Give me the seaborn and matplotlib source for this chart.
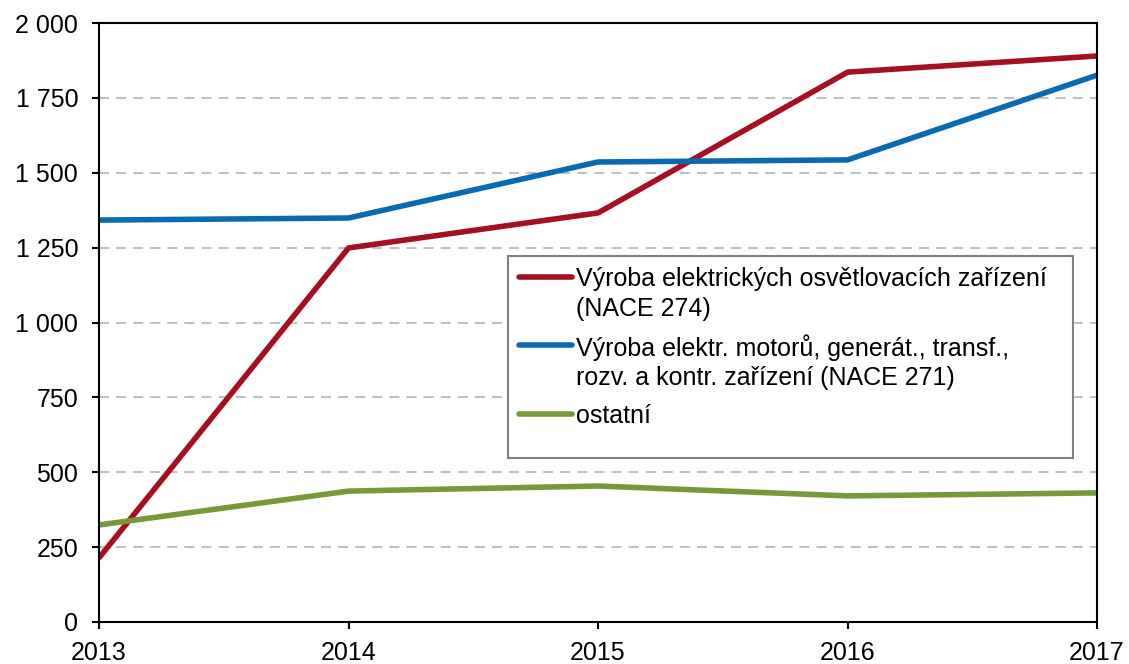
import numpy as np
import pandas as pd
import matplotlib
matplotlib.use("Agg")
import matplotlib.pyplot as plt
import matplotlib.ticker as mticker
from matplotlib.legend_handler import HandlerLine2D
from matplotlib.patches import Rectangle
import seaborn as sns

years = [2013, 2014, 2015, 2016, 2017]
lighting = [214, 1249, 1366, 1836, 1890]
motors = [1342, 1349, 1536, 1543, 1826]
other = [324, 437, 454, 421, 431]

labels = [
    "Výroba elektrických osvětlovacích zařízení\n(NACE 274)",
    "Výroba elektr. motorů, generát., transf.,\nrozv. a kontr. zařízení (NACE 271)",
    "ostatní",
]
colors = ["#A50F21", "#0A6AB0", "#77993A"]

df = pd.DataFrame({
    "rok": years * 3,
    "hodnota": lighting + motors + other,
    "serie": [labels[0]] * 5 + [labels[1]] * 5 + [labels[2]] * 5,
})

FS = 18
LINESP = 1.29


class TopLineHandler(HandlerLine2D):
    # put the handle level with the first text line of a multi-line label
    def create_artists(self, legend, orig_handle, xdescent, ydescent,
                       width, height, fontsize, trans):
        artists = super().create_artists(legend, orig_handle, xdescent, ydescent,
                                         width, height, fontsize, trans)
        n = orig_handle.get_label().count("\n")
        if n:
            shift = n * 0.5 * fontsize * LINESP * 1.1
            for a in artists:
                a.set_ydata(np.asarray(a.get_ydata()) + shift)
        return artists


sns.set_theme(style="white")
plt.rcParams["font.family"] = ["Liberation Sans", "DejaVu Sans"]

fig = plt.figure(figsize=(11.29, 6.64), dpi=100)
ax = fig.add_axes([0.0877, 0.0633, 0.884, 0.902])

sns.lineplot(data=df, x="rok", y="hodnota", hue="serie", hue_order=labels,
             palette=colors, linewidth=4, ax=ax)

ax.set_xlim(2013, 2017)
ax.set_ylim(0, 2000)
ax.set_xticks(years)
ax.set_yticks(np.arange(0, 2001, 250))
ax.yaxis.set_major_formatter(
    mticker.FuncFormatter(lambda v, p: f"{int(v):,}".replace(",", " ")))
ax.set_xlabel("")
ax.set_ylabel("")

for y in np.arange(250, 2000, 250):
    ax.axhline(y, color="#C0C0C0", linestyle=(0, (4.8, 3.4)), linewidth=1.5, zorder=0)

for s in ax.spines.values():
    s.set_color("black")
    s.set_linewidth(1.5)

ax.tick_params(axis="both", which="major", direction="out", length=5, width=1.5,
               color="black", labelsize=FS, labelcolor="black",
               left=True, bottom=True)
ax.tick_params(axis="y", pad=10)
ax.tick_params(axis="x", pad=9)

# legend frame drawn separately (it leaves empty room at the bottom)
ax.add_patch(Rectangle((0.410, 0.274), 0.566, 0.337, transform=ax.transAxes,
                       facecolor="white", edgecolor="#808080", linewidth=1.5,
                       zorder=5))

handles, _ = ax.get_legend_handles_labels()
leg = ax.legend(handles=handles, labels=labels, loc="upper left",
                bbox_to_anchor=((519 - 99) / 998, (622 - 267) / 599),
                fontsize=FS, frameon=False, handlelength=2.1,
                handletextpad=0.16, labelspacing=0.55, borderpad=0,
                borderaxespad=0, handler_map={type(handles[0]): TopLineHandler()})
leg.set_zorder(6)
for t in leg.get_texts():
    t.set_linespacing(LINESP)
    t.set_color("black")
for line in leg.get_lines():
    line.set_linewidth(4)

fig.savefig("out.png", dpi=100)
